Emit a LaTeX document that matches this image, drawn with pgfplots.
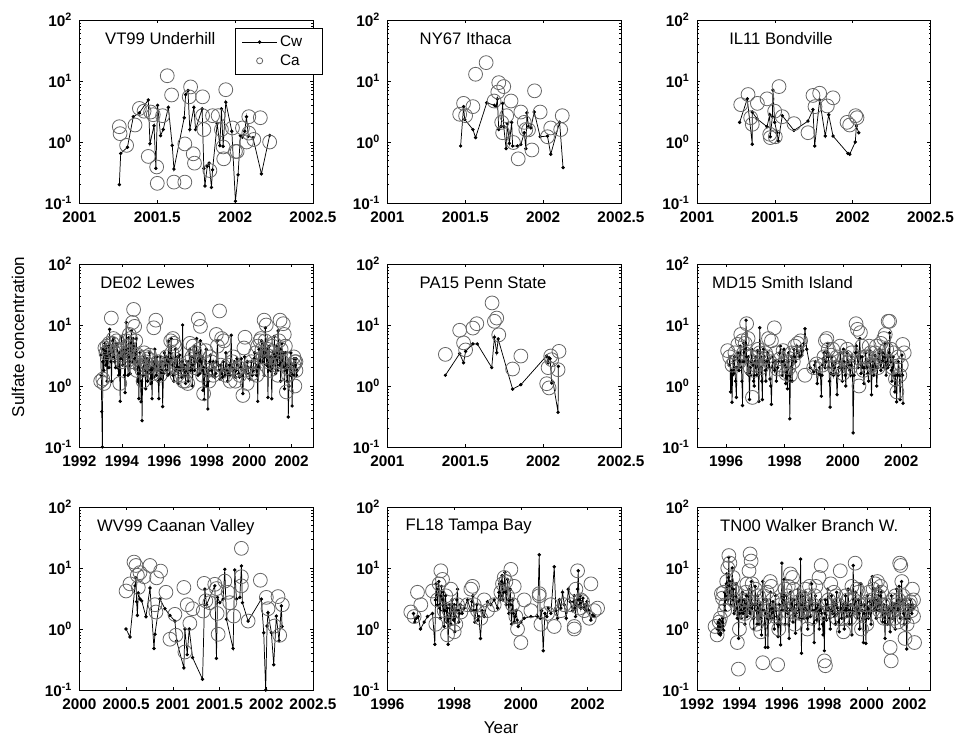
\documentclass[border=0pt]{standalone}
\usepackage{fontspec}
\setmainfont{Liberation Sans}
\usepackage{pgfplots}
\pgfplotsset{compat=1.18}
\pgfplotsset{every axis/.append style={
    scale only axis, width=175.1pt, height=137.25pt, anchor=north west,
    ymin=0.1, ymax=100,
    ytick={0.1,1,10,100},
    yticklabels={10\textsuperscript{-1},10\textsuperscript{0},10\textsuperscript{1},10\textsuperscript{2}},
    minor ytick={0.2,0.3,0.4,0.5,0.6,0.7,0.8,0.9,2,3,4,5,6,7,8,9,20,30,40,50,60,70,80,90},
    tick label style={font=\fontsize{11.5}{13}\selectfont\bfseries},
    xticklabel style={yshift=-3pt},
    yticklabel style={xshift=-2pt},
    major tick length=2.5pt, minor tick length=1.3pt,
    tick style={black, line width=0.4pt},
    axis line style={line width=0.5pt},
  }}
\tikzset{
  mycw/.style={black, line width=0.55pt, mark=*, mark size=1pt, mark options={solid, fill=black}},
  myca/.style={only marks, mark=o, mark size=5.2pt, mark options={black!60, line width=0.6pt}},
  myttl/.style={anchor=west, inner sep=0pt, font=\fontsize{12.5}{14}\selectfont},
}
\begin{document}
\begin{tikzpicture}
\path[use as bounding box] (0pt,0pt) rectangle (717.75pt,-554.25pt);
% ---------------- VT99
\begin{semilogyaxis}[at={(59.6pt,-15pt)}, xmin=2001, xmax=2002.5,
  xtick={2001,2001.5,2002,2002.5}, xticklabels={2001,2001.5,2002,2002.5},
  legend image code/.code={\draw[mark repeat=2,mark phase=2,#1] plot coordinates {(0pt,0pt) (13pt,0pt) (26pt,0pt)};},
  legend style={at={(0.666,0.956)}, anchor=north west, draw=black, fill=white, line width=0.5pt,
    font=\fontsize{11.5}{13}\selectfont, inner xsep=5pt, inner ysep=3.5pt, row sep=0.5pt, cells={anchor=west}}]
\addplot[mycw] coordinates {(2001.256,0.20)(2001.265,0.65)(2001.308,0.82)(2001.346,2.6)(2001.385,3.0)(2001.442,4.9)(2001.453,0.94)(2001.479,1.85)(2001.491,0.37)(2001.502,4.0)(2001.521,1.27)(2001.538,1.6)(2001.571,3.7)(2001.596,0.88)(2001.607,0.36)(2001.673,2.5)(2001.682,6.0)(2001.697,7.0)(2001.709,1.6)(2001.735,3.7)(2001.746,1.6)(2001.788,3.5)(2001.799,0.37)(2001.806,0.19)(2001.821,0.40)(2001.833,0.45)(2001.848,0.18)(2001.855,0.35)(2001.885,2.0)(2001.902,0.87)(2001.912,3.5)(2001.923,0.85)(2001.940,4.5)(2001.979,1.5)(2002.002,0.107)(2002.019,0.29)(2002.034,1.27)(2002.047,1.2)(2002.062,1.5)(2002.073,2.6)(2002.085,1.24)(2002.115,1.17)(2002.169,0.30)(2002.222,1.28)};
\addlegendentry{\makebox[25pt][l]{Cw}}
\addplot[myca, legend image post style={mark size=2.3pt}] coordinates {(2001.256,1.78)(2001.261,1.37)(2001.303,0.88)(2001.357,1.9)(2001.385,3.55)(2001.415,3.2)(2001.442,0.58)(2001.457,3.1)(2001.474,2.8)(2001.496,0.39)(2001.500,0.21)(2001.534,2.7)(2001.564,12.2)(2001.592,5.9)(2001.607,0.22)(2001.677,0.22)(2001.677,0.93)(2001.705,5.5)(2001.714,8.0)(2001.731,0.64)(2001.739,0.45)(2001.791,5.5)(2001.791,2.7)(2001.799,1.6)(2001.838,0.34)(2001.855,2.7)(2001.891,2.7)(2001.923,0.83)(2001.927,0.53)(2001.940,7.2)(2001.912,1.6)(2001.983,1.7)(2002.002,0.70)(2002.013,0.70)(2002.047,1.7)(2002.073,1.0)(2002.088,2.6)(2002.120,1.1)(2002.162,2.5)(2002.222,1.0)(2002.088,1.4)};
\addlegendentry{\makebox[25pt][l]{Ca}}
\node[myttl] at (rel axis cs:0.109,0.896) {VT99 Underhill};
\end{semilogyaxis}
% ---------------- NY67
\begin{semilogyaxis}[at={(290.6pt,-15pt)}, xmin=2001, xmax=2002.5,
  xtick={2001,2001.5,2002,2002.5}, xticklabels={2001,2001.5,2002,2002.5}]
\addplot[mycw] coordinates {(2001.470,0.86)(2001.489,3.8)(2001.496,2.35)(2001.549,1.6)(2001.566,1.18)(2001.638,4.4)(2001.687,4.0)(2001.698,3.8)(2001.706,5.1)(2001.715,1.6)(2001.730,1.8)(2001.740,4.3)(2001.747,1.8)(2001.762,0.78)(2001.770,2.0)(2001.783,0.95)(2001.798,2.1)(2001.804,0.86)(2001.836,0.86)(2001.857,0.91)(2001.879,1.42)(2001.889,0.78)(2001.896,3.0)(2001.906,1.8)(2001.921,1.7)(2001.943,3.1)(2001.981,1.22)(2002.028,1.25)(2002.049,0.63)(2002.106,2.1)(2002.128,0.38)};
\addplot[myca] coordinates {(2001.464,2.85)(2001.489,4.3)(2001.502,2.7)(2001.549,3.8)(2001.566,12.9)(2001.634,20)(2001.685,4.7)(2001.709,6.6)(2001.715,9.4)(2001.747,8.1)(2001.734,2.1)(2001.740,1.42)(2001.766,2.7)(2001.794,4.7)(2001.809,0.98)(2001.840,0.53)(2001.857,3.1)(2001.879,2.1)(2001.889,1.6)(2001.906,1.58)(2001.928,0.74)(2001.945,6.9)(2001.981,3.1)(2002.028,1.22)(2002.049,1.7)(2002.113,1.6)(2002.123,2.7)};
\node[myttl] at (rel axis cs:0.137,0.896) {NY67 Ithaca};
\end{semilogyaxis}
% ---------------- IL11
\begin{semilogyaxis}[at={(522.75pt,-15pt)}, xmin=2001, xmax=2002.5,
  xtick={2001,2001.5,2002,2002.5}, xticklabels={2001,2001.5,2002,2002.5}]
\addplot[mycw] coordinates {(2001.274,2.1)(2001.323,5.1)(2001.355,0.92)(2001.355,3.1)(2001.385,2.4)(2001.450,1.78)(2001.467,2.8)(2001.471,1.22)(2001.484,2.6)(2001.488,7.1)(2001.499,2.1)(2001.514,1.42)(2001.522,1.04)(2001.548,2.7)(2001.623,1.55)(2001.713,2.2)(2001.745,3.4)(2001.756,0.86)(2001.788,4.9)(2001.824,1.25)(2001.846,2.8)(2001.874,1.25)(2001.970,0.65)(2001.981,0.63)(2002.017,1.0)(2002.024,1.83)(2002.039,1.42)};
\addplot[myca] coordinates {(2001.281,4.1)(2001.328,6.0)(2001.345,2.5)(2001.355,1.95)(2001.388,4.3)(2001.450,5.1)(2001.467,1.34)(2001.471,1.18)(2001.499,3.2)(2001.503,1.22)(2001.527,8.1)(2001.548,2.6)(2001.623,2.0)(2001.713,1.42)(2001.745,5.8)(2001.758,3.8)(2001.788,6.3)(2001.837,3.9)(2001.874,5.3)(2001.964,2.1)(2001.981,1.9)(2002.019,2.7)(2002.028,2.5)};
\node[myttl] at (rel axis cs:0.137,0.896) {IL11 Bondville};
\end{semilogyaxis}
% ---------------- DE02
\begin{semilogyaxis}[at={(59.6pt,-198pt)}, xmin=1992, xmax=2003,
  xtick={1992,1994,1996,1998,2000,2002}, xticklabels={1992,1994,1996,1998,2000,2002}]
\addplot[mycw] coordinates {(1993.00,3.2)(1993.03,1.5)(1993.05,0.38)(1993.08,0.10)(1993.10,2.5)(1993.12,4.0)(1993.15,1.8)(1993.18,3.5)(1993.20,5.0)(1993.24,2.2)(1993.27,4.5)(1993.30,1.2)(1993.33,3.0)(1993.36,4.5)(1993.39,2.0)(1993.42,8.5)(1993.45,3.5)(1993.48,2.5)(1993.51,1.2)(1993.55,5.5)(1993.58,3.0)(1993.62,6.0)(1993.66,2.5)(1993.70,2.0)(1993.74,5.0)(1993.78,4.8)(1993.81,2.0)(1993.85,1.5)(1993.88,3.5)(1993.92,0.56)(1993.95,2.8)(1993.98,6.5)(1994.01,3.0)(1994.04,2.2)(1994.07,4.0)(1994.10,5.5)(1994.12,1.5)(1994.15,0.78)(1994.18,3.5)(1994.20,11)(1994.23,4.0)(1994.26,3.0)(1994.29,1.5)(1994.32,6.2)(1994.35,2.5)(1994.38,1.6)(1994.41,5.0)(1994.45,8.0)(1994.47,3.5)(1994.50,2.5)(1994.53,6.0)(1994.56,4.5)(1994.59,2.8)(1994.62,1.9)(1994.65,3.5)(1994.68,6.0)(1994.71,2.5)(1994.74,1.2)(1994.77,2.2)(1994.80,0.62)(1994.83,2.0)(1994.85,3.5)(1994.88,1.5)(1994.90,0.55)(1994.93,1.2)(1994.95,0.27)(1994.98,2.0)(1995.00,1.5)(1995.03,2.5)(1995.06,3.0)(1995.09,1.8)(1995.12,0.9)(1995.15,2.2)(1995.18,2.8)(1995.21,1.2)(1995.24,1.6)(1995.27,2.5)(1995.30,3.5)(1995.33,1.8)(1995.36,1.1)(1995.39,2.0)(1995.42,0.62)(1995.45,1.8)(1995.48,2.5)(1995.51,1.4)(1995.55,4.0)(1995.58,2.0)(1995.62,1.5)(1995.65,3.0)(1995.68,2.2)(1995.71,1.2)(1995.74,0.62)(1995.77,1.8)(1995.80,3.0)(1995.83,1.3)(1995.86,1.8)(1995.89,2.5)(1995.92,0.46)(1995.96,1.6)(1996.00,3.5)(1996.03,2.2)(1996.06,1.8)(1996.09,3.0)(1996.12,2.8)(1996.16,1.5)(1996.20,5.5)(1996.23,2.5)(1996.26,1.6)(1996.29,3.5)(1996.32,6.0)(1996.35,2.8)(1996.38,2.2)(1996.41,1.5)(1996.45,1.2)(1996.48,2.5)(1996.52,4.0)(1996.55,1.8)(1996.58,2.0)(1996.61,3.0)(1996.65,1.1)(1996.68,2.0)(1996.72,3.2)(1996.76,1.8)(1996.80,1.4)(1996.83,2.5)(1996.86,10)(1996.89,2.0)(1996.92,1.5)(1996.96,2.2)(1997.00,1.1)(1997.03,1.8)(1997.06,2.5)(1997.09,1.5)(1997.12,1.2)(1997.16,2.5)(1997.20,4.0)(1997.23,1.8)(1997.26,2.0)(1997.29,3.0)(1997.32,1.0)(1997.36,2.2)(1997.40,4.5)(1997.43,1.8)(1997.46,2.5)(1997.49,3.5)(1997.52,6.0)(1997.55,2.5)(1997.58,1.5)(1997.61,2.8)(1997.64,3.5)(1997.67,1.6)(1997.70,5.5)(1997.73,2.5)(1997.76,1.8)(1997.79,3.0)(1997.82,0.85)(1997.85,2.0)(1997.88,0.6)(1997.91,1.5)(1997.94,2.5)(1997.97,4.0)(1998.00,1.0)(1998.03,1.6)(1998.05,0.42)(1998.08,1.2)(1998.10,1.8)(1998.14,2.5)(1998.18,3.2)(1998.22,1.8)(1998.26,1.5)(1998.30,2.5)(1998.34,2.0)(1998.38,1.4)(1998.42,1.6)(1998.46,2.5)(1998.50,5.5)(1998.54,2.2)(1998.58,1.8)(1998.62,1.3)(1998.66,2.2)(1998.70,1.6)(1998.74,1.4)(1998.78,2.5)(1998.82,1.8)(1998.86,1.5)(1998.90,3.5)(1998.94,1.8)(1998.98,1.2)(1999.02,1.6)(1999.06,2.2)(1999.10,1.5)(1999.15,6.8)(1999.18,2.0)(1999.22,1.5)(1999.26,1.8)(1999.30,2.5)(1999.34,1.4)(1999.38,1.8)(1999.42,2.8)(1999.46,2.2)(1999.50,1.6)(1999.54,1.4)(1999.58,2.0)(1999.62,2.8)(1999.66,1.5)(1999.70,0.75)(1999.74,1.8)(1999.78,3.0)(1999.82,1.8)(1999.86,1.6)(1999.90,2.5)(1999.94,2.0)(1999.98,1.6)(2000.02,1.3)(2000.06,2.0)(2000.10,2.5)(2000.14,1.5)(2000.18,1.8)(2000.22,2.8)(2000.26,3.5)(2000.30,2.0)(2000.34,1.5)(2000.37,2.2)(2000.40,0.56)(2000.43,2.0)(2000.46,4.0)(2000.49,2.0)(2000.52,2.5)(2000.55,4.0)(2000.58,5.5)(2000.61,2.5)(2000.64,3.0)(2000.67,5.0)(2000.70,1.5)(2000.73,3.5)(2000.76,9.0)(2000.79,3.0)(2000.82,2.2)(2000.85,4.0)(2000.88,0.65)(2000.91,2.5)(2000.94,4.5)(2000.97,2.0)(2001.00,1.8)(2001.03,3.0)(2001.06,0.62)(2001.09,2.0)(2001.12,3.5)(2001.15,2.2)(2001.18,6.5)(2001.21,3.0)(2001.24,1.6)(2001.27,4.5)(2001.30,3.0)(2001.33,1.8)(2001.36,8.0)(2001.39,3.5)(2001.42,2.2)(2001.45,4.0)(2001.48,1.2)(2001.51,2.5)(2001.54,5.0)(2001.57,2.5)(2001.60,2.0)(2001.63,3.5)(2001.66,0.9)(2001.69,2.0)(2001.72,3.5)(2001.75,1.8)(2001.78,1.2)(2001.81,2.2)(2001.84,0.31)(2001.87,1.0)(2001.90,2.0)(2001.93,1.5)(2001.96,3.5)(2001.99,1.6)(2002.02,0.47)(2002.05,1.5)(2002.08,2.2)(2002.11,2.8)(2002.14,1.5)(2002.17,2.2)(2002.20,2.8)(2002.23,1.5)(2002.26,1.8)};
\addplot[myca] coordinates {(1993.0,1.2)(1993.1,1.3)(1993.15,1.1)(1993.2,4.2)(1993.25,3.5)(1993.3,4.5)(1993.35,3.8)(1993.4,5.0)(1993.5,13)(1993.55,5.0)(1993.6,6.0)(1993.65,3.5)(1993.75,5.5)(1993.8,4.0)(1993.9,1.1)(1994.0,2.5)(1994.05,4.0)(1994.1,3.2)(1994.15,2.8)(1994.2,5.5)(1994.25,3.5)(1994.3,4.5)(1994.35,7.0)(1994.4,6.0)(1994.42,3.0)(1994.45,2.5)(1994.5,11)(1994.55,18)(1994.6,9.5)(1994.65,5.5)(1994.7,1.8)(1994.75,3.2)(1994.8,3.0)(1994.85,2.2)(1994.95,1.8)(1995.0,1.2)(1995.05,3.5)(1995.1,2.5)(1995.15,3.0)(1995.2,2.0)(1995.25,2.8)(1995.3,3.2)(1995.4,2.2)(1995.45,1.6)(1995.5,9.0)(1995.6,12)(1995.7,2.5)(1995.8,1.5)(1995.9,2.0)(1996.0,2.2)(1996.1,3.0)(1996.2,2.5)(1996.3,5.5)(1996.35,3.5)(1996.4,6.0)(1996.45,5.0)(1996.5,4.5)(1996.55,2.0)(1996.6,1.5)(1996.75,2.2)(1996.85,1.5)(1996.9,1.2)(1997.0,1.2)(1997.1,1.1)(1997.15,2.5)(1997.2,5.0)(1997.3,3.0)(1997.35,4.5)(1997.4,2.0)(1997.45,3.5)(1997.5,2.5)(1997.6,12.5)(1997.65,4.0)(1997.7,9.5)(1997.8,1.5)(1997.85,0.75)(1997.95,3.8)(1998.05,1.8)(1998.1,1.2)(1998.15,3.0)(1998.2,2.5)(1998.3,1.5)(1998.35,1.8)(1998.45,7.0)(1998.5,4.5)(1998.6,17)(1998.65,2.2)(1998.7,6.0)(1998.8,5.5)(1998.9,1.5)(1999.0,2.2)(1999.1,1.2)(1999.2,2.5)(1999.25,3.0)(1999.35,1.2)(1999.4,1.8)(1999.5,2.0)(1999.55,1.5)(1999.7,0.7)(1999.75,4.2)(1999.8,6.3)(1999.9,1.1)(2000.0,2.0)(2000.1,2.5)(2000.15,1.6)(2000.2,2.0)(2000.3,3.5)(2000.35,1.5)(2000.4,4.5)(2000.5,5.5)(2000.55,6.0)(2000.6,4.0)(2000.65,3.0)(2000.7,12)(2000.75,5.5)(2000.8,10)(2000.85,4.0)(2000.9,2.5)(2000.95,1.8)(2001.05,3.5)(2001.1,4.5)(2001.15,5.0)(2001.2,3.0)(2001.25,2.2)(2001.3,2.5)(2001.35,1.5)(2001.4,5.5)(2001.45,12)(2001.5,4.0)(2001.55,2.5)(2001.6,10.5)(2001.65,7.0)(2001.7,4.5)(2001.75,0.8)(2001.8,2.0)(2001.85,1.5)(2002.1,3.0)(2002.1,2.2)(2002.15,2.5)(2002.2,1.8)(2002.2,2.5)(2002.15,1.0)};
\node[myttl] at (rel axis cs:0.088,0.896) {DE02 Lewes};
\end{semilogyaxis}
% ---------------- PA15
\begin{semilogyaxis}[at={(290.6pt,-198pt)}, xmin=2001, xmax=2002.5,
  xtick={2001,2001.5,2002,2002.5}, xticklabels={2001,2001.5,2002,2002.5}]
\addplot[mycw] coordinates {(2001.372,1.5)(2001.464,3.4)(2001.489,2.4)(2001.502,3.7)(2001.549,4.9)(2001.577,4.9)(2001.670,2.0)(2001.687,6.3)(2001.702,3.5)(2001.711,5.9)(2001.804,0.89)(2001.857,1.05)(2002.021,3.1)(2002.032,2.4)(2002.038,2.9)(2002.045,2.8)(2002.055,1.12)(2002.064,1.15)(2002.096,0.37)(2002.098,2.1)};
\addplot[myca] coordinates {(2001.372,3.3)(2001.464,8.2)(2001.489,5.1)(2001.502,3.9)(2001.549,8.9)(2001.574,10.5)(2001.672,23)(2001.687,11.5)(2001.702,13)(2001.715,6.9)(2001.804,1.9)(2001.857,3.1)(2002.023,1.09)(2002.032,2.0)(2002.049,3.1)(2002.055,2.7)(2002.038,0.93)(2002.102,3.7)(2002.096,1.85)};
\node[myttl] at (rel axis cs:0.137,0.896) {PA15 Penn State};
\end{semilogyaxis}
% ---------------- MD15
\begin{semilogyaxis}[at={(522.75pt,-198pt)}, xmin=1995, xmax=2003,
  xtick={1996,1998,2000,2002}, xticklabels={1996,1998,2000,2002}]
\addplot[mycw] coordinates {(1996.10,2.2)(1996.13,3.0)(1996.15,0.8)(1996.18,1.8)(1996.20,0.54)(1996.22,1.5)(1996.24,2.5)(1996.26,1.6)(1996.28,3.0)(1996.30,2.0)(1996.32,1.2)(1996.35,0.65)(1996.37,2.0)(1996.40,3.5)(1996.42,2.5)(1996.44,1.8)(1996.46,3.0)(1996.48,4.5)(1996.50,2.5)(1996.52,2.0)(1996.54,1.2)(1996.56,0.48)(1996.58,2.5)(1996.60,5.0)(1996.62,3.5)(1996.64,2.5)(1996.66,4.0)(1996.68,12)(1996.70,3.0)(1996.72,1.6)(1996.74,2.5)(1996.76,3.0)(1996.78,1.5)(1996.80,0.6)(1996.82,2.0)(1996.84,1.5)(1996.86,2.5)(1996.88,4.0)(1996.90,2.5)(1996.92,2.2)(1996.94,1.2)(1996.96,1.0)(1996.98,2.5)(1997.00,3.0)(1997.02,2.0)(1997.04,1.5)(1997.06,2.5)(1997.08,3.8)(1997.10,1.5)(1997.12,0.56)(1997.15,9.0)(1997.18,3.0)(1997.20,2.0)(1997.22,1.2)(1997.24,0.6)(1997.26,2.5)(1997.28,4.0)(1997.30,3.0)(1997.32,2.5)(1997.34,1.8)(1997.36,1.2)(1997.39,2.5)(1997.42,3.5)(1997.44,2.5)(1997.46,2.0)(1997.48,2.8)(1997.50,1.3)(1997.53,1.0)(1997.55,0.5)(1997.58,2.0)(1997.60,3.0)(1997.63,2.5)(1997.66,1.8)(1997.69,2.5)(1997.72,1.2)(1997.76,2.0)(1997.80,2.5)(1997.83,3.5)(1997.86,4.5)(1997.89,2.5)(1997.92,1.5)(1997.95,2.5)(1997.98,4.0)(1998.01,2.2)(1998.04,1.1)(1998.07,2.0)(1998.10,0.9)(1998.12,2.5)(1998.14,3.5)(1998.16,1.5)(1998.18,0.29)(1998.20,1.2)(1998.22,2.0)(1998.24,3.0)(1998.26,1.2)(1998.29,2.5)(1998.32,4.0)(1998.35,3.0)(1998.38,2.5)(1998.42,4.5)(1998.46,3.5)(1998.51,3.0)(1998.56,4.5)(1998.59,3.2)(1998.62,3.8)(1998.66,5.0)(1998.70,8.7)(1998.76,4.0)(1998.88,2.0)(1999.00,1.7)(1999.03,2.2)(1999.06,2.5)(1999.09,1.8)(1999.12,1.1)(1999.16,1.6)(1999.20,2.0)(1999.23,1.5)(1999.26,0.68)(1999.28,1.5)(1999.30,2.2)(1999.33,2.8)(1999.36,3.5)(1999.39,2.0)(1999.42,2.5)(1999.45,3.5)(1999.48,5.0)(1999.50,3.0)(1999.52,2.0)(1999.54,1.2)(1999.56,0.45)(1999.59,1.6)(1999.62,3.0)(1999.65,2.2)(1999.68,1.5)(1999.71,2.0)(1999.74,2.5)(1999.77,1.6)(1999.80,0.72)(1999.83,1.5)(1999.86,2.0)(1999.89,2.5)(1999.92,3.5)(1999.95,2.0)(1999.98,1.2)(2000.00,2.5)(2000.02,4.0)(2000.04,2.5)(2000.06,2.0)(2000.08,1.5)(2000.10,1.0)(2000.12,2.0)(2000.14,3.5)(2000.17,2.5)(2000.20,2.2)(2000.23,1.8)(2000.26,1.5)(2000.28,2.2)(2000.30,3.0)(2000.33,1.5)(2000.35,0.17)(2000.38,1.5)(2000.40,2.5)(2000.43,3.5)(2000.46,4.5)(2000.49,3.0)(2000.52,2.0)(2000.55,3.5)(2000.58,6.0)(2000.60,3.0)(2000.62,1.6)(2000.64,2.2)(2000.66,3.0)(2000.69,2.0)(2000.72,1.1)(2000.75,2.0)(2000.78,3.5)(2000.80,2.5)(2000.82,2.0)(2000.85,1.6)(2000.88,1.2)(2000.90,2.5)(2000.92,3.8)(2000.95,2.0)(2000.98,0.72)(2001.00,1.8)(2001.02,2.5)(2001.04,2.0)(2001.06,1.5)(2001.08,2.2)(2001.10,3.2)(2001.13,2.0)(2001.16,1.0)(2001.19,2.0)(2001.22,2.8)(2001.24,3.5)(2001.26,4.0)(2001.28,2.5)(2001.30,1.8)(2001.33,2.5)(2001.36,3.5)(2001.38,2.5)(2001.40,2.0)(2001.42,3.0)(2001.44,5.0)(2001.46,2.5)(2001.48,1.5)(2001.50,2.2)(2001.52,3.0)(2001.54,2.0)(2001.56,2.2)(2001.58,3.5)(2001.60,7.4)(2001.62,3.0)(2001.64,2.5)(2001.66,1.8)(2001.68,1.2)(2001.70,2.0)(2001.72,3.0)(2001.75,1.5)(2001.78,0.8)(2001.81,1.5)(2001.84,0.55)(2001.87,1.5)(2001.90,2.5)(2001.93,1.5)(2001.96,0.6)(2001.99,1.5)(2002.02,3.2)(2002.04,1.5)(2002.06,0.52)};
\addplot[myca] coordinates {(1996.05,3.8)(1996.12,3.0)(1996.2,2.2)(1996.28,2.5)(1996.3,3.5)(1996.4,4.8)(1996.45,2.5)(1996.5,7.0)(1996.55,5.5)(1996.6,3.5)(1996.65,5.0)(1996.7,10.5)(1996.75,6.0)(1996.82,2.0)(1996.85,3.0)(1996.9,0.65)(1996.95,1.8)(1997.0,2.2)(1997.05,3.0)(1997.1,4.0)(1997.15,3.5)(1997.2,2.0)(1997.25,2.8)(1997.35,3.5)(1997.4,3.0)(1997.45,6.0)(1997.5,2.5)(1997.55,5.5)(1997.65,9.0)(1997.7,3.5)(1997.75,1.9)(1997.85,2.8)(1997.9,2.2)(1997.95,3.8)(1998.05,1.6)(1998.1,2.5)(1998.15,2.0)(1998.2,1.5)(1998.25,3.5)(1998.3,2.5)(1998.35,4.5)(1998.4,3.5)(1998.45,5.0)(1998.55,5.5)(1998.7,1.5)(1999.0,2.0)(1999.1,2.3)(1999.3,2.2)(1999.35,3.0)(1999.4,5.5)(1999.45,6.0)(1999.5,4.0)(1999.55,2.5)(1999.6,3.2)(1999.65,4.0)(1999.7,2.0)(1999.8,3.0)(1999.85,2.0)(1999.9,4.5)(2000.0,1.6)(2000.05,2.8)(2000.1,3.0)(2000.15,4.0)(2000.2,2.5)(2000.25,2.0)(2000.3,3.5)(2000.35,2.5)(2000.45,10.5)(2000.5,8.5)(2000.55,1.0)(2000.6,7.5)(2000.65,4.5)(2000.7,1.8)(2000.75,3.0)(2000.8,3.0)(2000.85,2.0)(2000.9,4.5)(2000.95,3.5)(2001.0,2.2)(2001.05,2.5)(2001.1,3.5)(2001.15,4.5)(2001.2,2.0)(2001.25,3.0)(2001.3,5.0)(2001.35,2.5)(2001.4,6.0)(2001.45,7.0)(2001.5,4.0)(2001.55,11.5)(2001.6,11.5)(2001.65,4.0)(2001.7,2.0)(2001.75,3.5)(2001.8,1.3)(2001.85,0.8)(2001.9,3.0)(2001.95,1.5)(2002.0,2.2)(2002.05,4.8)(2002.1,3.5)};
\node[myttl] at (rel axis cs:0.064,0.896) {MD15 Smith Island};
\end{semilogyaxis}
% ---------------- WV99
\begin{semilogyaxis}[at={(59.6pt,-380.25pt)}, xmin=2000, xmax=2002.5,
  xtick={2000,2000.5,2001,2001.5,2002,2002.5}, xticklabels={2000,2000.5,2001,2001.5,2002,2002.5}]
\addplot[mycw] coordinates {(2000.499,1.0)(2000.541,0.74)(2000.595,5.1)(2000.605,6.9)(2000.612,2.8)(2000.620,1.67)(2000.630,3.9)(2000.648,3.1)(2000.666,2.9)(2000.712,1.59)(2000.755,4.7)(2000.798,0.48)(2000.808,0.82)(2000.862,3.1)(2000.915,2.15)(2000.969,1.67)(2001.022,1.35)(2001.040,0.64)(2001.118,0.23)(2001.129,1.0)(2001.154,0.38)(2001.175,1.0)(2001.211,0.34)(2001.318,0.15)(2001.343,4.5)(2001.360,2.5)(2001.449,5.1)(2001.467,0.33)(2001.478,3.3)(2001.503,2.7)(2001.538,3.1)(2001.556,9.5)(2001.574,1.44)(2001.645,0.48)(2001.663,9.3)(2001.681,3.1)(2001.717,3.3)(2001.734,10.8)(2001.745,2.7)(2001.806,1.35)(2001.948,3.1)(2001.973,0.87)(2001.994,0.10)(2002.009,1.12)(2002.019,1.85)(2002.055,0.87)(2002.080,0.26)(2002.108,1.63)(2002.137,0.64)(2002.162,2.4)(2002.169,1.1)};
\addplot[myca] coordinates {(2000.499,4.2)(2000.541,5.5)(2000.584,12.5)(2000.605,11.0)(2000.620,7.6)(2000.648,8.4)(2000.630,4.8)(2000.691,7.2)(2000.755,11.0)(2000.808,2.5)(2000.819,1.9)(2000.826,6.9)(2000.869,8.9)(2000.926,4.0)(2000.969,0.68)(2001.022,1.74)(2001.033,0.79)(2001.118,4.8)(2001.129,0.42)(2001.154,2.5)(2001.182,1.24)(2001.211,2.15)(2001.325,1.97)(2001.335,5.6)(2001.353,2.9)(2001.396,2.7)(2001.449,5.4)(2001.467,4.6)(2001.474,1.8)(2001.485,0.82)(2001.556,6.1)(2001.592,4.0)(2001.610,2.7)(2001.652,1.63)(2001.734,21)(2001.734,7.2)(2001.734,5.1)(2001.806,1.35)(2001.937,6.3)(2002.001,3.3)(2002.019,2.15)(2002.090,1.12)(2002.126,3.4)(2002.144,0.79)(2002.172,2.5)};
\node[myttl] at (rel axis cs:0.075,0.891) {WV99 Caanan Valley};
\end{semilogyaxis}
% ---------------- FL18
\begin{semilogyaxis}[at={(290.6pt,-380.25pt)}, xmin=1996, xmax=2003,
  xtick={1996,1998,2000,2002}, xticklabels={1996,1998,2000,2002}]
\addplot[mycw] coordinates {(1996.78,1.8)(1996.82,1.3)(1996.86,1.5)(1996.92,1.6)(1996.99,1.0)(1997.10,1.3)(1997.20,1.6)(1997.35,1.8)(1997.42,0.56)(1997.44,3.0)(1997.46,5.5)(1997.48,3.5)(1997.50,2.5)(1997.52,4.5)(1997.54,6.0)(1997.56,2.2)(1997.58,1.5)(1997.60,3.5)(1997.62,5.0)(1997.64,3.0)(1997.66,2.0)(1997.68,4.0)(1997.70,1.1)(1997.72,2.0)(1997.74,3.5)(1997.76,2.5)(1997.78,1.3)(1997.80,2.2)(1997.82,0.56)(1997.84,1.5)(1997.86,2.5)(1997.88,1.8)(1997.90,1.2)(1997.92,2.2)(1997.94,3.0)(1997.96,2.0)(1997.98,1.4)(1998.00,2.5)(1998.02,0.9)(1998.04,1.6)(1998.06,2.0)(1998.08,3.0)(1998.10,4.5)(1998.12,2.0)(1998.14,1.3)(1998.16,1.8)(1998.18,2.5)(1998.24,1.8)(1998.30,2.2)(1998.40,3.0)(1998.50,2.0)(1998.53,2.8)(1998.56,3.5)(1998.59,2.0)(1998.62,1.3)(1998.65,2.0)(1998.68,2.5)(1998.71,1.4)(1998.74,1.6)(1998.79,0.7)(1998.84,2.0)(1998.90,1.6)(1999.00,2.8)(1999.10,2.5)(1999.20,3.0)(1999.30,2.2)(1999.34,4.0)(1999.36,5.5)(1999.38,3.0)(1999.40,3.5)(1999.42,6.0)(1999.44,7.5)(1999.46,3.0)(1999.48,4.0)(1999.50,5.5)(1999.52,8.5)(1999.54,4.0)(1999.56,2.5)(1999.58,4.5)(1999.60,6.5)(1999.62,3.0)(1999.64,1.8)(1999.66,3.0)(1999.68,4.5)(1999.70,2.5)(1999.72,1.2)(1999.74,2.0)(1999.76,3.0)(1999.78,1.8)(1999.80,1.3)(1999.83,1.6)(1999.86,2.0)(1999.89,1.4)(1999.92,1.1)(2000.00,1.3)(2000.10,1.5)(2000.30,1.6)(2000.50,1.6)(2000.55,16.5)(2000.58,1.5)(2000.62,2.0)(2000.67,0.44)(2000.72,1.8)(2000.78,1.6)(2000.82,2.2)(2000.90,1.8)(2001.00,10.5)(2001.05,2.0)(2001.10,1.5)(2001.15,3.0)(2001.20,2.2)(2001.25,4.0)(2001.30,2.5)(2001.36,1.5)(2001.42,4.5)(2001.48,2.8)(2001.55,2.0)(2001.58,2.8)(2001.60,3.5)(2001.62,2.2)(2001.64,1.6)(2001.66,2.5)(2001.68,3.0)(2001.70,4.5)(2001.72,9.0)(2001.74,3.0)(2001.76,2.5)(2001.78,3.5)(2001.80,2.2)(2001.83,2.8)(2001.86,3.2)(2001.89,2.2)(2001.92,2.5)(2001.95,2.0)(2001.98,2.8)(2002.04,2.0)(2002.10,1.4)(2002.15,1.7)(2002.20,1.6)};
\addplot[myca] coordinates {(1996.7,1.9)(1996.8,1.6)(1996.9,4.0)(1997.0,2.5)(1997.35,4.2)(1997.45,1.2)(1997.5,3.0)(1997.55,5.5)(1997.6,9.0)(1997.65,6.5)(1997.7,2.0)(1997.75,3.5)(1997.8,0.8)(1997.85,2.0)(1997.9,4.5)(1997.95,1.5)(1998.0,0.9)(1998.05,1.2)(1998.1,2.5)(1998.2,1.9)(1998.4,2.5)(1998.5,4.5)(1998.55,5.0)(1998.6,2.5)(1998.7,2.0)(1998.8,1.5)(1998.9,3.0)(1999.0,2.0)(1999.2,2.5)(1999.4,4.0)(1999.45,5.5)(1999.5,7.0)(1999.55,6.0)(1999.6,3.5)(1999.7,9.5)(1999.75,2.5)(1999.8,5.0)(1999.85,1.6)(1999.9,1.0)(2000.0,0.6)(2000.1,3.0)(2000.3,2.0)(2000.55,3.5)(2000.55,3.8)(2000.6,1.2)(2000.8,1.8)(2000.9,2.5)(2001.0,1.1)(2001.2,2.0)(2001.3,2.5)(2001.5,2.5)(2001.6,1.1)(2001.6,1.0)(2001.65,4.5)(2001.7,9.0)(2001.75,2.2)(2001.8,3.0)(2001.85,2.8)(2001.9,2.0)(2002.05,1.5)(2002.1,5.5)(2002.2,2.0)(2002.3,2.2)};
\node[myttl] at (rel axis cs:0.077,0.896) {FL18 Tampa Bay};
\end{semilogyaxis}
% ---------------- TN00
\begin{semilogyaxis}[at={(522.75pt,-380.25pt)}, xmin=1992, xmax=2003,
  xtick={1992,1994,1996,1998,2000,2002}, xticklabels={1992,1994,1996,1998,2000,2002}]
\addplot[mycw] coordinates {(1992.95,1.0)(1992.98,1.2)(1993.00,1.3)(1993.02,0.85)(1993.04,0.9)(1993.06,1.4)(1993.08,1.1)(1993.10,0.8)(1993.12,0.85)(1993.14,1.3)(1993.16,1.2)(1993.18,1.0)(1993.20,1.5)(1993.22,1.1)(1993.25,0.95)(1993.28,2.5)(1993.30,4.0)(1993.33,2.0)(1993.35,3.5)(1993.38,5.5)(1993.40,8.0)(1993.43,3.0)(1993.45,5.0)(1993.48,7.0)(1993.50,15)(1993.53,4.0)(1993.55,6.0)(1993.58,2.5)(1993.60,3.5)(1993.63,5.0)(1993.66,10)(1993.69,3.0)(1993.72,4.5)(1993.75,1.8)(1993.78,2.0)(1993.81,3.5)(1993.84,5.5)(1993.87,2.2)(1993.90,1.5)(1993.93,2.8)(1993.96,0.7)(1993.99,1.8)(1994.02,3.0)(1994.05,2.0)(1994.08,1.5)(1994.11,2.5)(1994.14,4.0)(1994.17,1.8)(1994.20,2.0)(1994.23,3.0)(1994.26,1.2)(1994.29,2.5)(1994.32,3.5)(1994.35,1.6)(1994.38,2.2)(1994.41,3.5)(1994.44,4.5)(1994.47,2.0)(1994.50,1.8)(1994.53,3.0)(1994.56,6.0)(1994.59,2.2)(1994.62,2.5)(1994.65,1.5)(1994.68,1.0)(1994.71,2.5)(1994.74,5.0)(1994.77,2.5)(1994.80,2.0)(1994.83,1.2)(1994.86,3.5)(1994.89,2.0)(1994.92,1.2)(1994.95,2.2)(1994.98,2.5)(1995.01,1.5)(1995.04,0.8)(1995.07,2.0)(1995.10,6.0)(1995.13,3.0)(1995.16,2.0)(1995.19,1.2)(1995.22,0.5)(1995.25,1.8)(1995.28,3.0)(1995.31,1.5)(1995.34,0.5)(1995.37,1.5)(1995.40,2.5)(1995.43,1.6)(1995.46,4.0)(1995.49,2.2)(1995.52,1.5)(1995.55,2.0)(1995.58,2.8)(1995.61,1.8)(1995.64,1.0)(1995.67,2.2)(1995.70,3.5)(1995.73,2.0)(1995.76,1.6)(1995.79,1.2)(1995.82,0.75)(1995.85,1.5)(1995.88,2.5)(1995.91,1.2)(1995.94,0.55)(1995.97,2.0)(1996.00,12)(1996.02,3.0)(1996.05,2.0)(1996.08,3.5)(1996.10,6.5)(1996.13,2.5)(1996.16,1.2)(1996.19,2.0)(1996.22,3.5)(1996.25,2.2)(1996.28,1.8)(1996.31,1.2)(1996.34,0.7)(1996.37,2.0)(1996.40,4.0)(1996.43,2.5)(1996.46,2.2)(1996.49,3.0)(1996.52,1.3)(1996.55,2.0)(1996.58,3.0)(1996.61,1.6)(1996.64,0.85)(1996.67,1.8)(1996.70,2.5)(1996.73,3.5)(1996.76,4.5)(1996.79,2.0)(1996.82,1.5)(1996.85,2.5)(1996.88,14)(1996.90,2.5)(1996.92,0.4)(1996.95,1.5)(1996.98,3.5)(1997.01,2.2)(1997.04,1.5)(1997.07,2.5)(1997.10,4.0)(1997.13,2.2)(1997.16,2.0)(1997.19,1.5)(1997.22,1.0)(1997.25,2.0)(1997.28,3.0)(1997.31,2.0)(1997.34,1.6)(1997.37,3.0)(1997.40,5.5)(1997.43,2.5)(1997.46,2.0)(1997.49,1.2)(1997.52,0.6)(1997.55,2.0)(1997.58,3.5)(1997.61,2.0)(1997.64,1.4)(1997.67,2.2)(1997.70,2.5)(1997.73,1.5)(1997.76,1.0)(1997.79,2.0)(1997.82,3.0)(1997.85,2.2)(1997.88,1.8)(1997.91,1.2)(1997.94,0.8)(1997.97,1.5)(1998.00,0.44)(1998.03,1.8)(1998.05,3.0)(1998.08,2.0)(1998.10,1.4)(1998.13,2.5)(1998.16,4.5)(1998.19,2.2)(1998.22,2.0)(1998.25,1.5)(1998.28,1.0)(1998.31,2.0)(1998.34,3.5)(1998.37,2.0)(1998.40,1.8)(1998.43,2.8)(1998.46,2.5)(1998.49,1.6)(1998.52,1.2)(1998.55,2.5)(1998.58,4.0)(1998.61,2.2)(1998.64,1.8)(1998.67,1.3)(1998.70,0.9)(1998.73,2.0)(1998.76,3.0)(1998.79,2.0)(1998.82,1.5)(1998.85,2.2)(1998.88,2.5)(1998.91,1.5)(1998.94,1.0)(1998.97,2.0)(1999.00,3.5)(1999.03,2.2)(1999.06,1.6)(1999.09,2.5)(1999.12,4.5)(1999.15,2.0)(1999.18,1.2)(1999.21,2.0)(1999.24,2.5)(1999.27,1.6)(1999.30,0.8)(1999.33,2.5)(1999.36,11)(1999.39,3.0)(1999.42,2.0)(1999.45,2.8)(1999.48,4.0)(1999.51,2.2)(1999.54,1.5)(1999.57,2.2)(1999.60,3.0)(1999.63,1.8)(1999.66,1.0)(1999.69,2.5)(1999.72,5.5)(1999.75,2.5)(1999.78,2.0)(1999.81,1.5)(1999.84,0.6)(1999.87,1.8)(1999.90,2.5)(1999.93,1.5)(1999.96,0.58)(1999.99,2.0)(2000.02,3.5)(2000.05,2.0)(2000.08,1.5)(2000.11,2.2)(2000.14,2.8)(2000.17,1.8)(2000.20,1.2)(2000.23,2.5)(2000.26,7.2)(2000.29,3.0)(2000.32,2.0)(2000.35,3.0)(2000.38,4.5)(2000.41,2.2)(2000.44,1.5)(2000.47,2.5)(2000.50,3.0)(2000.53,2.0)(2000.56,5.0)(2000.59,2.5)(2000.62,2.0)(2000.65,3.5)(2000.68,4.0)(2000.71,2.0)(2000.74,1.3)(2000.77,2.0)(2000.80,2.5)(2000.83,1.5)(2000.86,0.7)(2000.89,1.8)(2000.92,3.0)(2000.95,2.0)(2000.98,1.2)(2001.01,2.0)(2001.04,2.2)(2001.07,1.5)(2001.10,0.9)(2001.13,2.0)(2001.16,3.5)(2001.19,2.0)(2001.22,1.5)(2001.25,2.2)(2001.28,2.5)(2001.31,1.6)(2001.34,1.0)(2001.37,2.5)(2001.40,4.5)(2001.43,2.5)(2001.46,2.0)(2001.49,3.0)(2001.52,5.0)(2001.55,2.2)(2001.58,1.5)(2001.61,2.8)(2001.64,6.0)(2001.67,3.0)(2001.70,2.5)(2001.73,1.8)(2001.76,1.2)(2001.79,2.0)(2001.82,3.0)(2001.85,1.5)(2001.88,0.47)(2001.91,1.5)(2001.94,2.5)(2001.97,2.0)(2002.00,1.5)(2002.03,2.2)(2002.06,3.0)(2002.09,2.0)(2002.12,1.8)(2002.15,2.5)(2002.18,2.2)};
\addplot[myca] coordinates {(1992.85,1.1)(1992.95,0.8)(1993.05,1.3)(1993.1,1.5)(1993.15,3.8)(1993.2,3.2)(1993.25,4.0)(1993.3,2.0)(1993.35,2.5)(1993.4,6.0)(1993.45,10)(1993.5,16)(1993.55,12)(1993.65,4.5)(1993.7,7.0)(1993.75,3.0)(1993.8,4.0)(1993.9,0.6)(1993.95,0.22)(1994.0,1.0)(1994.05,2.5)(1994.1,2.0)(1994.2,3.0)(1994.25,1.8)(1994.3,4.0)(1994.35,5.5)(1994.4,3.0)(1994.45,9.0)(1994.5,17)(1994.55,13)(1994.6,5.5)(1994.65,2.0)(1994.7,2.5)(1994.75,4.5)(1994.8,1.2)(1994.9,3.5)(1995.0,0.9)(1995.05,2.5)(1995.1,0.28)(1995.15,3.5)(1995.2,1.5)(1995.3,4.0)(1995.35,2.0)(1995.45,6.0)(1995.5,5.0)(1995.55,3.0)(1995.6,1.8)(1995.7,1.6)(1995.8,0.26)(1995.85,1.0)(1995.95,2.5)(1996.0,3.0)(1996.1,1.5)(1996.15,4.5)(1996.2,2.0)(1996.25,3.5)(1996.3,5.0)(1996.4,8.0)(1996.45,2.5)(1996.5,7.0)(1996.55,4.5)(1996.6,1.2)(1996.7,2.5)(1996.75,3.5)(1996.85,1.8)(1996.95,2.0)(1997.0,3.0)(1997.1,4.5)(1997.15,2.5)(1997.2,1.0)(1997.25,3.5)(1997.3,5.0)(1997.4,1.5)(1997.45,2.5)(1997.55,3.5)(1997.6,5.0)(1997.65,2.0)(1997.75,7.0)(1997.85,11)(1997.95,1.8)(1998.0,0.3)(1998.05,0.25)(1998.15,2.5)(1998.2,3.0)(1998.3,5.5)(1998.4,2.0)(1998.45,4.0)(1998.55,3.5)(1998.6,1.5)(1998.65,2.5)(1998.75,9.0)(1998.85,1.5)(1998.9,0.9)(1999.0,3.5)(1999.1,3.0)(1999.15,2.0)(1999.2,1.5)(1999.3,5.0)(1999.4,3.0)(1999.45,12)(1999.55,4.5)(1999.6,4.0)(1999.65,2.5)(1999.7,1.8)(1999.75,1.0)(1999.85,2.0)(1999.95,2.5)(2000.0,1.2)(2000.1,4.0)(2000.15,2.5)(2000.25,3.0)(2000.3,4.5)(2000.4,5.5)(2000.45,2.5)(2000.5,6.0)(2000.55,3.5)(2000.6,2.0)(2000.65,5.0)(2000.7,4.0)(2000.75,2.5)(2000.8,1.5)(2000.9,2.5)(2000.95,1.5)(2001.0,1.8)(2001.1,0.5)(2001.15,0.3)(2001.2,3.0)(2001.25,2.0)(2001.3,1.5)(2001.35,3.5)(2001.4,2.5)(2001.45,1.3)(2001.5,3.0)(2001.55,12)(2001.6,11)(2001.65,6.0)(2001.7,3.5)(2001.7,2.0)(2001.75,1.5)(2001.8,0.7)(2001.85,2.5)(2001.9,1.2)(2002.0,2.5)(2002.05,2.8)(2002.1,2.0)(2002.15,4.5)(2002.2,3.0)(2002.2,1.6)(2002.25,0.6)};
\node[myttl] at (rel axis cs:0.098,0.896) {TN00 Walker Branch W.};
\end{semilogyaxis}
% ---------------- common labels
\node[rotate=90, font=\fontsize{12.8}{14}\selectfont] at (13.5pt,-252.75pt) {Sulfate concentration};
\node[font=\fontsize{12.8}{14}\selectfont] at (375.75pt,-546pt) {Year};
\end{tikzpicture}
\end{document}
